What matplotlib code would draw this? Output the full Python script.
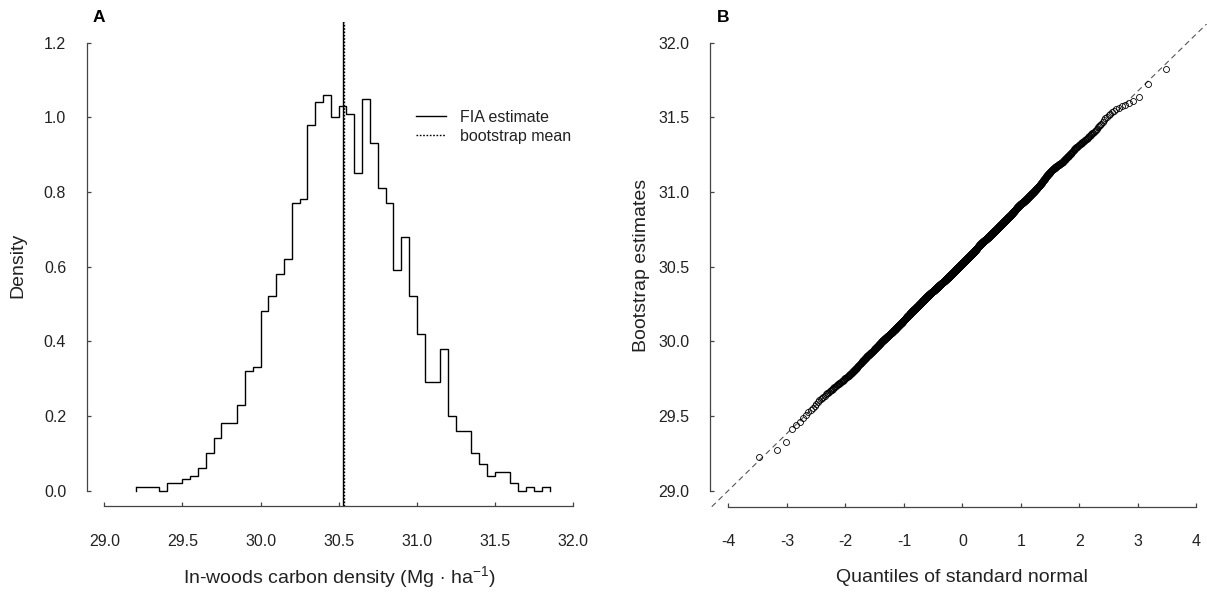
import numpy as np
import matplotlib.pyplot as plt
from statistics import NormalDist

plt.rcParams['font.family'] = ['Liberation Sans', 'DejaVu Sans']
plt.rcParams['mathtext.fontset'] = 'custom'
plt.rcParams['mathtext.rm'] = 'Liberation Sans'
plt.rcParams['mathtext.it'] = 'Liberation Sans:italic'

# bootstrap estimates, counts per 0.05 bin starting at 29.20
bin_start = 29.20
bin_width = 0.05
counts = [1, 1, 1, 0, 2, 2, 3, 4, 6, 10, 14, 18, 18, 23, 32, 33, 48, 52, 58, 62,
          77, 78, 98, 104, 106, 100, 103, 101, 85, 105, 93, 81, 77, 59, 68, 52, 42,
          29, 29, 38, 20, 16, 16, 10, 7, 4, 5, 5, 2, 0, 1, 0, 1]
fia_estimate = 30.530
boot_mean = 30.536
legend_labels = ['FIA estimate', 'bootstrap mean']

xticks_a = [29.0, 29.5, 30.0, 30.5, 31.0, 31.5, 32.0]
yticks_a = [0.0, 0.2, 0.4, 0.6, 0.8, 1.0, 1.2]
xticks_b = [-4, -3, -2, -1, 0, 1, 2, 3, 4]
yticks_b = [29.0, 29.5, 30.0, 30.5, 31.0, 31.5, 32.0]

W, H = 1207, 592
INK = '#222222'


def box(l, t, r, b):
    return [l / W, 1 - b / H, (r - l) / W, (b - t) / H]


def r_style(ax, xb, yb):
    for s in ('top', 'right'):
        ax.spines[s].set_visible(False)
    ax.spines['left'].set_bounds(*yb)
    ax.spines['bottom'].set_bounds(*xb)
    for s in ('left', 'bottom'):
        ax.spines[s].set_color('#444444')
        ax.spines[s].set_linewidth(0.9)
    ax.tick_params(direction='in', length=3.2, width=0.9, color='#444444',
                   labelsize=11.5, labelcolor=INK)
    ax.tick_params(axis='x', pad=20)
    ax.tick_params(axis='y', pad=15)


counts = np.array(counts)
n = counts.sum()
edges = bin_start + bin_width * np.arange(len(counts) + 1)
density = counts / (n * bin_width)

fig = plt.figure(figsize=(W / 100, H / 100), dpi=100)

# ---- panel A: histogram
ax = fig.add_axes(box(87, 22, 592, 506))
ax.stairs(density, edges, color='black', linewidth=1.0, baseline=None)
ax.plot([edges[0], edges[0]], [0, density[0]], color='black', lw=1.0)
ax.plot([edges[-1], edges[-1]], [0, density[-1]], color='black', lw=1.0)
ax.axvline(fia_estimate, color='black', lw=1.0, label=legend_labels[0])
ax.axvline(boot_mean, color='black', lw=1.0, ls=(0, (1.2, 1.2)), label=legend_labels[1])
ax.set_xlim(28.889, 32.122)
ax.set_ylim(-0.0415, 1.2555)
ax.set_xticks(xticks_a, [f'{v:.1f}' for v in xticks_a])
ax.set_yticks(yticks_a, [f'{v:.1f}' for v in yticks_a])
r_style(ax, (29, 32), (0, 1.2))
leg = ax.legend(loc='upper left', bbox_to_anchor=(0.651, 0.818), frameon=False,
                fontsize=11.5, handlelength=1.9, handletextpad=0.9,
                labelspacing=0.23, borderpad=0, borderaxespad=0)
for t in leg.get_texts():
    t.set_color(INK)

fig.text(99 / W, 1 - 18 / H, 'A', fontsize=12.5, fontweight='bold',
         ha='center', va='center')
fig.text(18 / W, 1 - 265 / H, 'Density', fontsize=14, rotation=90,
         ha='center', va='center', color=INK)
fig.text(339 / W, 1 - 577 / H, r'In-woods carbon density (Mg$\,\cdot\,$ha$^{-1}$)',
         fontsize=14, ha='center', va='center', color=INK)

# ---- panel B: normal QQ plot built from the same counts
sample = np.concatenate([lo + (np.arange(c) + 0.5) / c * bin_width
                         for lo, c in zip(edges[:-1], counts) if c > 0])
nd = NormalDist()
theo = np.array([nd.inv_cdf((i - 0.5) / n) for i in range(1, n + 1)])

ax2 = fig.add_axes(box(710, 24, 1215.5, 506.7))
q1, q3 = np.quantile(sample, [0.25, 0.75])
z1, z3 = nd.inv_cdf(0.25), nd.inv_cdf(0.75)
ax2.axline((z1, q1), (z3, q3), color='#555555', lw=0.8, ls=(0, (5, 3.5)))
ax2.plot(theo, sample, 'o', mfc='none', mec='black', ms=4.3, mew=0.6)
ax2.set_xlim(-4.315, 4.325)
ax2.set_ylim(28.893, 32.125)
ax2.set_xticks(xticks_b, [str(v) for v in xticks_b])
ax2.set_yticks(yticks_b, [f'{v:.1f}' for v in yticks_b])
r_style(ax2, (-4, 4), (29, 32))

fig.text(723.5 / W, 1 - 18 / H, 'B', fontsize=12.5, fontweight='bold',
         ha='center', va='center')
fig.text(642 / W, 1 - 265 / H, 'Bootstrap estimates', fontsize=14, rotation=90,
         ha='center', va='center', color=INK)
fig.text(962 / W, 1 - 577 / H, 'Quantiles of standard normal',
         fontsize=14, ha='center', va='center', color=INK)

fig.savefig('out.png', dpi=100)
